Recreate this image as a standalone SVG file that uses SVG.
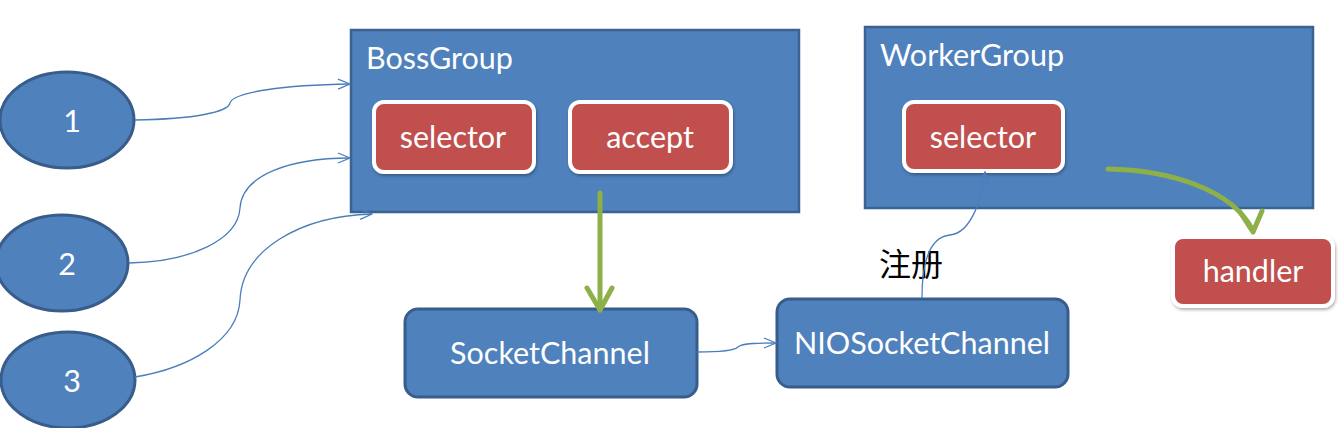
<svg xmlns="http://www.w3.org/2000/svg" width="1342" height="428" viewBox="0 0 1342 428">
<defs>
<style>
.grp{fill:#4f81bd;stroke:#3a6393;stroke-width:2.5}
.ell{fill:#4f81bd;stroke:#385d8a;stroke-width:3}
.rbox{fill:#4f81bd;stroke:#385d8a;stroke-width:3}
.red{fill:#c0504d;stroke:#ffffff;stroke-width:4}
.t{font-family:Lato,"Liberation Sans",sans-serif;font-size:30.5px;fill:#ffffff}
.c{text-anchor:middle}
.thin{fill:none;stroke:#4a7ebb;stroke-width:1.3}
.green{fill:none;stroke:#8db048;stroke-width:5;stroke-linecap:round;stroke-linejoin:round}
.cn{font-family:"Noto Sans CJK SC",sans-serif;font-size:32px;fill:#000000}
</style>
<marker id="ah" markerWidth="14" markerHeight="12" refX="13" refY="6" orient="auto" markerUnits="userSpaceOnUse">
<path d="M1,1 L13,6 L1,11" fill="none" stroke="#4a7ebb" stroke-width="1.3"/>
</marker>
<filter id="sh" x="-10%" y="-10%" width="130%" height="140%">
<feDropShadow dx="1" dy="2" stdDeviation="1.5" flood-color="#000" flood-opacity="0.3"/>
</filter>
</defs>
<rect width="1342" height="428" fill="#ffffff"/>

<g id="boss">
<rect class="grp" x="351" y="30" width="448" height="182"/>
<text class="t" x="366" y="69">BossGroup</text>
</g>
<g id="boss-selector">
<rect class="red" x="374" y="102" width="160" height="70" rx="10" filter="url(#sh)"/>
<text class="t c" x="453" y="148">selector</text>
</g>
<g id="accept">
<rect class="red" x="570" y="102" width="161" height="70" rx="10" filter="url(#sh)"/>
<text class="t c" x="650" y="148">accept</text>
</g>

<g id="worker">
<rect class="grp" x="865" y="27" width="448" height="181"/>
<text class="t" x="880" y="66">WorkerGroup</text>
</g>
<g id="worker-selector">
<rect class="red" x="904" y="102" width="159" height="69" rx="10" filter="url(#sh)"/>
<text class="t c" x="983" y="148">selector</text>
</g>
<g id="handler">
<rect class="red" x="1173" y="237" width="160" height="69" rx="10" filter="url(#sh)"/>
<text class="t c" x="1253" y="282">handler</text>
</g>

<g id="n1">
<ellipse class="ell" cx="67" cy="120" rx="67" ry="48"/>
<text class="t c" x="72" y="132">1</text>
</g>
<g id="n2">
<ellipse class="ell" cx="62" cy="263" rx="66" ry="48"/>
<text class="t c" x="67" y="275">2</text>
</g>
<g id="n3">
<ellipse class="ell" cx="68" cy="380" rx="67" ry="48"/>
<text class="t c" x="72" y="392">3</text>
</g>

<g id="socketchannel">
<rect class="rbox" x="405" y="309" width="292" height="88" rx="13"/>
<text class="t c" x="550" y="364">SocketChannel</text>
</g>
<g id="niosocketchannel">
<rect class="rbox" x="777" y="299" width="291" height="88" rx="13"/>
<text class="t c" x="922" y="354">NIOSocketChannel</text>
</g>

<text class="cn" x="879" y="276">注册</text>

<g id="connectors">
<path class="thin" marker-end="url(#ah)" d="M135,120 C195,119 228,112 230,103 C233,92 285,85 350,84"/>
<path class="thin" marker-end="url(#ah)" d="M129,263 C190,262 238,240 240,208 C242,175 290,158 350,158"/>
<path class="thin" marker-end="url(#ah)" d="M135,377 C190,368 238,340 240,300 C242,250 300,216 372,214"/>
<path class="thin" marker-end="url(#ah)" d="M697,352 C720,352 735,350 738,347 C742,343 760,343 776,343"/>
<path class="thin" marker-end="url(#ah)" d="M922,298 C922,260 930,237 950,235 C972,233 983,195 985,172"/>
<path class="green" d="M600,193 L600,310"/>
<path class="green" d="M587,288 L600,310 L612,288"/>
<path class="green" d="M1108,169 C1170,170 1232,190 1252,229"/>
<path class="green" d="M1240,212 L1253,232 L1262,211"/>
</g>
</svg>
